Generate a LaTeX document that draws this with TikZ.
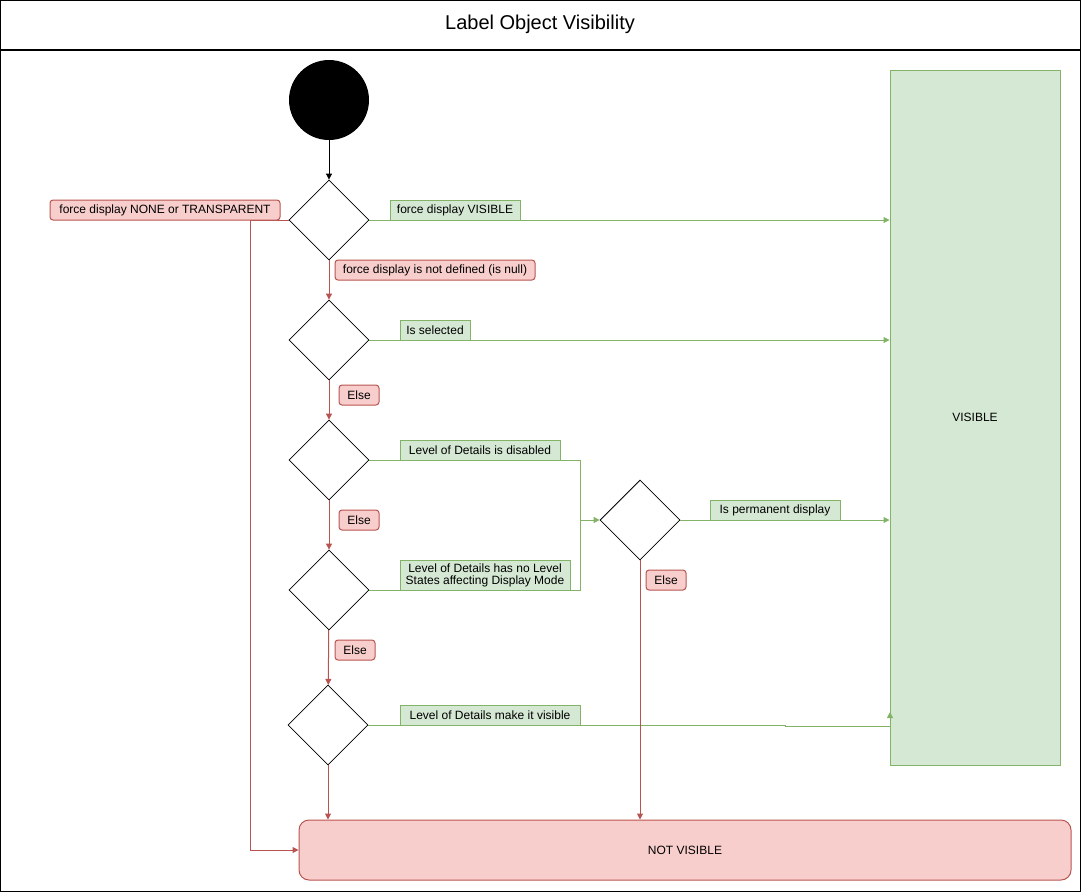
\documentclass[tikz,border=0pt]{standalone}
\usepackage{fontspec}
\setmainfont{Liberation Sans}
\usepackage{tikz}
\usepackage{xcolor}
\usetikzlibrary{arrows.meta, shapes.geometric, calc, positioning}
\definecolor{yesfill}{HTML}{D5E8D4}
\definecolor{yesline}{HTML}{82B366}
\definecolor{nofill}{HTML}{F8CECC}
\definecolor{noline}{HTML}{B85450}
\tikzset{
    tip/.style={-{Triangle[length=6pt, width=6pt]}},
    yes/.style={draw=yesline, line width=1pt, tip},
    no/.style={draw=noline, line width=1pt, tip},
    lbl/.style={inner sep=0pt, minimum height=20pt, align=center, font=\fontsize{12}{14}\selectfont}
}
\newcommand{\decision}[2]{
    \node[draw, diamond, inner sep=0pt, minimum width=80pt, minimum height=80pt, line width=0.8pt] (#1) at (#2) {};
}
\newcommand{\yeslabel}[4]{
    \node[lbl, draw=yesline, fill=yesfill, line width=1pt, minimum width=#3] (#1) at (#2) {#4};
}
\newcommand{\nolabel}[4]{
    \node[lbl, draw=noline, fill=nofill, line width=1pt, rounded corners=3pt, minimum width=#3] (#1) at (#2) {#4};
}

\begin{document}
\begin{tikzpicture}[x=1pt, y=-1pt]
                    \useasboundingbox (0,0) rectangle (1081,892);
                    \draw[line width=1.2pt] (0.5,0.5) rectangle (1080.5,891.5);
                    \draw[line width=1.2pt] (0.5,50) -- (1080.5,50);
                    \node[font=\fontsize{20}{24}\selectfont] (title) at (540,24) {Label Object Visibility};
                    \node[circle, fill=black, inner sep=0pt, minimum size=80pt] (start) at (329,100) {};
                    \decision{dforce}{329, 220}
                    \decision{dselect}{329, 340}
                    \decision{dlod}{329, 460}
                    \decision{dlevel}{329, 590}
                    \decision{dmake}{328, 725}
                    \decision{dperm}{640, 520}
                    \node[draw=yesline, fill=yesfill, line width=1pt, minimum width=170pt, minimum height=695pt, inner sep=0pt, font=\fontsize{12}{14}\selectfont] (visible) at (975, 417.5) {VISIBLE};
                    \node[draw=noline, fill=nofill, line width=1pt, rounded corners=10pt, minimum width=772pt, minimum height=60pt, inner sep=0pt, font=\fontsize{12}{14}\selectfont] (notvisible) at (685, 850) {NOT VISIBLE};
                    \coordinate (nobend) at (250, 850);
                    \coordinate (lodjoin) at (580, 520);
                    \draw[line width=0.8pt, tip] (start) -- (dforce);
                    \draw[yes] (dforce.east) -- (dforce.east -| visible.west);
                    \draw[yes] (dselect.east) -- (dselect.east -| visible.west);
                    \draw[yes] (dperm.east) -- (dperm.east -| visible.west);
                    \draw[yes] (dlod.east) -| (lodjoin) -- (dperm.west);
                    \draw[yes, -] (dlevel.east) -| (lodjoin);
                    \draw[yes] (dmake.east) -- (785, 725) -- (785, 726) -- (890, 726) -- (890, 712);
                    \draw[no] (dforce.west) -| (nobend) -- (notvisible.west);
                    \draw[no] (dforce) -- (dselect);
                    \draw[no] (dselect) -- (dlod);
                    \draw[no] (dlod) -- (dlevel);
                    \draw[no] (dlevel) -- (dmake);
                    \draw[no] (dmake.south) -- (dmake.south |- notvisible.north);
                    \draw[no] (dperm.south) -- (dperm.south |- notvisible.north);
                    \nolabel{lnone}{165, 210}{230pt}{force display NONE or TRANSPARENT}
                    \yeslabel{lvisible}{455, 210}{130pt}{force display VISIBLE}
                    \nolabel{lnull}{435, 270}{200pt}{force display is not defined (is null)}
                    \yeslabel{lselect}{435, 330}{70pt}{Is selected}
                    \nolabel{lelse1}{359, 395}{40pt}{Else}
                    \yeslabel{ldisabled}{480, 450}{160pt}{Level of Details is disabled}
                    \nolabel{lelse2}{359, 520}{40pt}{Else}
                    \node[lbl, draw=yesline, fill=yesfill, line width=1pt, minimum width=170pt, minimum height=30pt] (lnolevel) at (485, 575) {Level of Details has no Level\\[-2pt]States affecting Display Mode};
                    \nolabel{lelse3}{355, 650}{40pt}{Else}
                    \yeslabel{lmake}{490, 715}{180pt}{Level of Details make it visible}
                    \yeslabel{lperm}{775, 510}{130pt}{Is permanent display}
                    \nolabel{lelse4}{666, 580}{40pt}{Else}
                \end{tikzpicture}
\end{document}
